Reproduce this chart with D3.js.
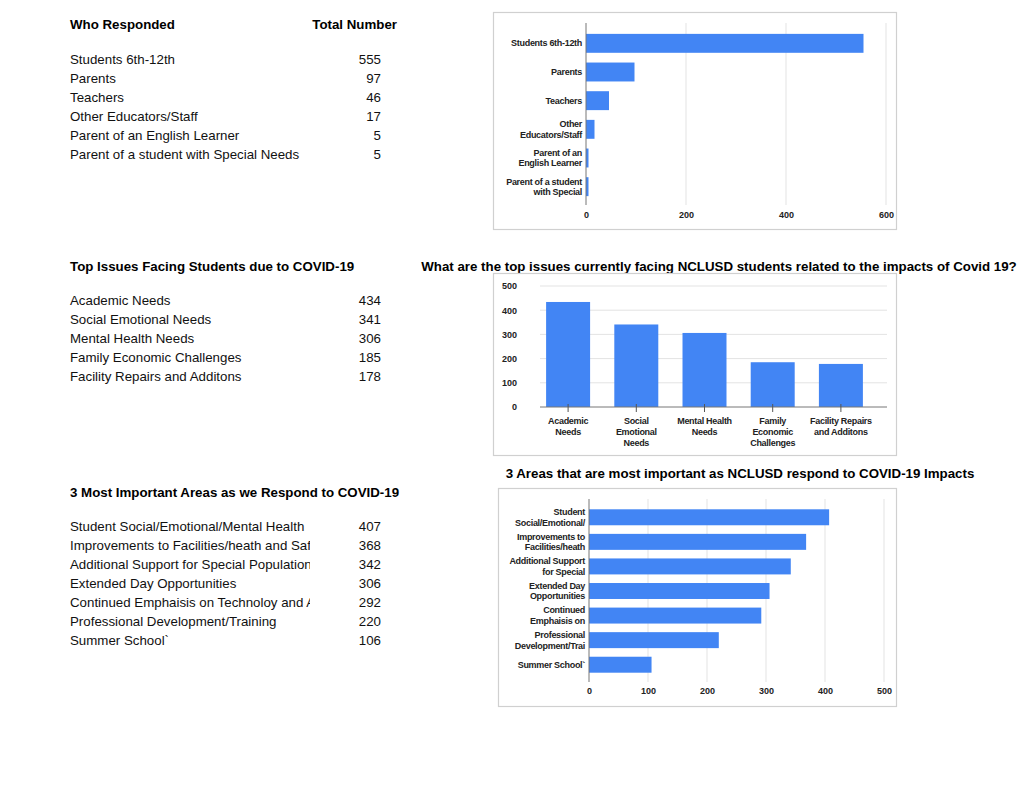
<!DOCTYPE html>
<html><head><meta charset="utf-8">
<script src="https://cdn.jsdelivr.net/npm/d3@7"></script>
<style>body{margin:0;background:#fff}svg{display:block;font-family:"Liberation Sans",Arial,sans-serif}</style>
</head><body><svg id="c" width="1024" height="792"></svg>
<script>
// ---- data ----
const respondents = ["Students 6th-12th","Parents","Teachers","Other Educators/Staff","Parent of an English Learner","Parent of a student with Special Needs"];
const respondentCounts = [555,97,46,17,5,5];
const respondentAxisLabels = [["Students 6th-12th"],["Parents"],["Teachers"],["Other","Educators/Staff"],["Parent of an","English Learner"],["Parent of a student","with Special"]];
const respondentTicks = [0,200,400,600];

const issues = ["Academic Needs","Social Emotional Needs","Mental Health Needs","Family Economic Challenges","Facility Repairs and Additons"];
const issueCounts = [434,341,306,185,178];
const issueAxisLabels = [["Academic","Needs"],["Social","Emotional","Needs"],["Mental Health","Needs"],["Family","Economic","Challenges"],["Facility Repairs","and Additons"]];
const issueTicks = [0,100,200,300,400,500];

const areas = ["Student Social/Emotional/Mental Health","Improvements to Facilities/heath and Safety","Additional Support for Special Populations","Extended Day Opportunities","Continued Emphaisis on Technoloy and Access","Professional Development/Training","Summer School`"];
const areaCounts = [407,368,342,306,292,220,106];
const areaAxisLabels = [["Student","Social/Emotional/"],["Improvements to","Facilities/heath"],["Additional Support","for Special"],["Extended Day","Opportunities"],["Continued","Emphaisis on"],["Professional","Development/Trai"],["Summer School`"]];
const areaTicks = [0,100,200,300,400,500];

const BLUE = "#4285f4";
const FS = 13.3;
const svg = d3.select("#c");
const defs = svg.append("defs");
defs.append("clipPath").attr("id","tclip").append("rect").attr("x",0).attr("y",0).attr("width",310).attr("height",792);

// ---- tables ----
function table(title, valueHeader, names, vals, y0, rowY0){
  const g = svg.append("g");
  g.append("text").attr("x",70).attr("y",y0).attr("font-size",FS).attr("font-weight","bold").attr("fill","#000").attr("dy","0.35em").text(title);
  if(valueHeader) g.append("text").attr("x",397).attr("y",y0).attr("text-anchor","end").attr("font-size",FS).attr("font-weight","bold").attr("dy","0.35em").text(valueHeader);
  const rows = g.append("g").attr("clip-path","url(#tclip)");
  names.forEach((n,i)=>{
    rows.append("text").attr("x",70).attr("y",rowY0+i*19).attr("dy","0.35em").attr("font-size",FS).attr("fill","#111").text(n);
  });
  vals.forEach((v,i)=>{
    g.append("text").attr("x",381).attr("y",rowY0+i*19).attr("dy","0.35em").attr("text-anchor","end").attr("font-size",FS).attr("fill","#111").text(v);
  });
}
table("Who Responded","Total Number",respondents,respondentCounts,24,59);
table("Top Issues Facing Students due to COVID-19",null,issues,issueCounts,266,300);
table("3 Most Important Areas as we Respond to COVID-19",null,areas,areaCounts,492,526);

// ---- horizontal bar chart helper ----
function hbar(box, x0, x1, gTop, gBot, bTop, bBot, maxV, ticks, labels, vals, pad, tickY){
  svg.append("rect").attr("x",box[0]+0.5).attr("y",box[1]+0.5).attr("width",box[2]).attr("height",box[3]).attr("fill","#fff").attr("stroke","#d0d0d0").attr("stroke-width",1.2);
  const x = d3.scaleLinear().domain([0,maxV]).range([x0,x1]);
  const y = d3.scaleBand().domain(d3.range(vals.length)).range([bTop,bBot]).paddingInner(pad).paddingOuter(pad/2);
  const g = svg.append("g");
  g.selectAll("line.grid").data(ticks.slice(1)).join("line").attr("x1",d=>x(d)).attr("x2",d=>x(d)).attr("y1",gTop).attr("y2",gBot).attr("stroke","#e3e3e3");
  g.selectAll("rect.bar").data(vals).join("rect").attr("x",x(0)).attr("y",(d,i)=>y(i)).attr("width",d=>x(d)-x(0)).attr("height",y.bandwidth()).attr("fill",BLUE);
  g.append("line").attr("x1",x(0)).attr("x2",x(0)).attr("y1",gTop).attr("y2",gBot).attr("stroke","#777");
  const ax = d3.axisBottom(x).tickValues(ticks).tickSize(0).tickPadding(0);
  const axg = g.append("g").attr("transform",`translate(0,${tickY})`).call(ax);
  axg.select(".domain").remove();
  axg.selectAll("text").attr("font-size",9).attr("font-weight","bold").attr("fill","#222").attr("font-family","Liberation Sans, Arial, sans-serif").attr("dy","0.35em").attr("y",0);
  labels.forEach((ls,i)=>{
    const cy = y(i)+y.bandwidth()/2;
    const t = g.append("text").attr("text-anchor","end").attr("font-size",9).attr("font-weight","bold").attr("fill","#222").attr("letter-spacing","-0.3");
    ls.forEach((l,j)=>{
      t.append("tspan").attr("x",x0-4).attr("y",cy+(j-(ls.length-1)/2)*10.5).attr("dy","0.35em").text(l);
    });
  });
}

hbar([493,12,403,217],586,886,23,205,29,201,600,respondentTicks,respondentAxisLabels,respondentCounts,0.34,215);
hbar([498,488,398,218],589,884,499,682,505,677,500,areaTicks,areaAxisLabels,areaCounts,0.35,691);

// ---- vertical bar chart ----
(function(){
  svg.append("text").attr("x",719).attr("y",266).attr("dy","0.35em").attr("text-anchor","middle").attr("font-size",FS).attr("font-weight","bold").text("What are the top issues currently facing NCLUSD students related to the impacts of Covid 19?");
  svg.append("rect").attr("x",493.5).attr("y",273.5).attr("width",403).attr("height",182).attr("fill","#fff").attr("stroke","#d0d0d0").attr("stroke-width",1.2);
  const x0=540,x1=887,yB=407,yT=286;
  const x = d3.scaleBand().domain(d3.range(issueCounts.length)).range([534,875]).paddingInner(0.355).paddingOuter(0.1775);
  const y = d3.scaleLinear().domain([0,500]).range([yB,yT]);
  const g = svg.append("g");
  g.selectAll("line.grid").data(issueTicks.slice(1)).join("line").attr("x1",x0).attr("x2",x1).attr("y1",d=>y(d)).attr("y2",d=>y(d)).attr("stroke","#e3e3e3");
  g.selectAll("rect.bar").data(issueCounts).join("rect").attr("x",(d,i)=>x(i)).attr("width",x.bandwidth()).attr("y",d=>y(d)).attr("height",d=>yB-y(d)).attr("fill",BLUE);
  g.append("line").attr("x1",x0).attr("x2",x1).attr("y1",yB).attr("y2",yB).attr("stroke","#777");
  issueCounts.forEach((d,i)=>{
    const cx = x(i)+x.bandwidth()/2;
    g.append("line").attr("x1",cx).attr("x2",cx).attr("y1",yB-3).attr("y2",yB+5).attr("stroke","#555");
    const t = g.append("text").attr("text-anchor","middle").attr("font-size",9).attr("font-weight","bold").attr("fill","#222").attr("letter-spacing","-0.3");
    issueAxisLabels[i].forEach((l,j)=>t.append("tspan").attr("x",cx).attr("y",421+j*11).attr("dy","0.35em").text(l));
  });
  const ay = d3.axisLeft(y).tickValues(issueTicks).tickSize(0).tickPadding(0);
  const ag = g.append("g").attr("transform","translate(517,0)").call(ay);
  ag.select(".domain").remove();
  ag.selectAll("text").attr("font-size",9).attr("font-weight","bold").attr("fill","#222").attr("font-family","Liberation Sans, Arial, sans-serif").attr("x",0);
})();

svg.append("text").attr("x",740).attr("y",473).attr("dy","0.35em").attr("text-anchor","middle").attr("font-size",FS).attr("font-weight","bold").text("3 Areas that are most important as NCLUSD respond to COVID-19 Impacts");
</script></body></html>
